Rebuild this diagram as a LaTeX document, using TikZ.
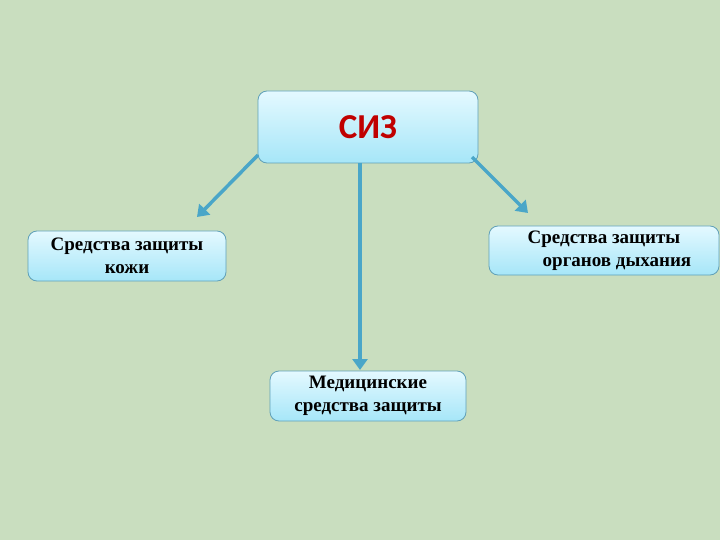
\documentclass[tikz,border=0pt]{standalone}
\usepackage{fontspec}
\setmainfont{Liberation Serif}
\newfontfamily\titlefont{Carlito}
\usetikzlibrary{arrows.meta}
\definecolor{fond}{RGB}{201,222,191}
\definecolor{boxtop}{RGB}{228,249,255}
\definecolor{boxbot}{RGB}{166,230,248}
\definecolor{boxline}{RGB}{96,160,184}
\definecolor{fleche}{RGB}{74,166,200}
\definecolor{rouge}{RGB}{192,0,0}
\tikzset{
  boite/.style={draw=boxline, line width=0.8pt, rounded corners=9pt,
    top color=boxtop, bottom color=boxbot, align=center,
    font=\bfseries\fontsize{19}{23}\selectfont, inner sep=0pt},
  fleche/.style={draw=fleche, line width=3.5pt, -{Triangle[length=11pt,width=15pt]}}
}
\begin{document}
\begin{tikzpicture}[x=1pt,y=-1pt]
\useasboundingbox[fill=fond] (0,0) rectangle (720,540);

\node[boite, minimum width=220, minimum height=72,
  font=\titlefont\bfseries\fontsize{35}{40}\selectfont, text=rouge] (siz) at (368,127) {СИЗ};
\node[boite, minimum width=198, minimum height=50] (kozha) at (127,256)
  {Средства защиты\\кожи};
\node[boite, minimum width=230, minimum height=49] (dykh) at (604,250.5)
  {Средства защиты\\\hspace*{26pt}органов дыхания};
\node[boite, minimum width=196, minimum height=50] (med) at (368,396)
  {Медицинские\\средства защиты};

\coordinate (a1) at (258,155);
\coordinate (a2) at (197,217);
\coordinate (b1) at (472,157);
\coordinate (b2) at (528,213);
\coordinate (c1) at (360,163);
\coordinate (c2) at (360,370);
\draw[fleche] (a1) -- (a2);
\draw[fleche] (b1) -- (b2);
\draw[fleche] (c1) -- (c2);

\end{tikzpicture}
\end{document}
